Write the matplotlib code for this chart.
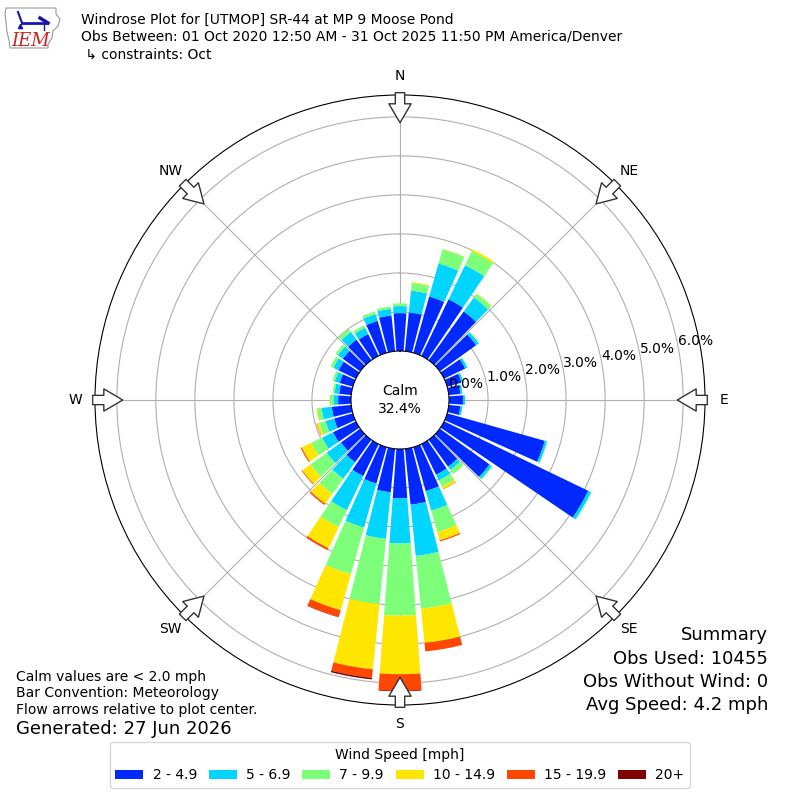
import numpy as np
import matplotlib
matplotlib.use("Agg")
import matplotlib.pyplot as plt
from matplotlib.patches import Polygon

# direction bins (degrees, meteorological: wind from)
directions = list(range(0, 360, 10))

# percent frequency per speed bin, one value per 10 degree sector
speed_2_5 = [0.97, 1.00, 1.50, 1.61, 1.54, 1.15, 0.60, 0.38, 0.30, 0.36, 0.30, 2.60,
             4.10, 1.57, 0.85, 0.87, 1.17, 1.44, 1.26, 1.12, 0.97, 0.91, 0.71, 0.61,
             0.65, 0.50, 0.50, 0.33, 0.31, 0.35, 0.49, 0.55, 0.65, 0.62, 0.85, 0.92]
speed_5_7 = [0.18, 0.56, 0.88, 0.97, 0.44, 0.08, 0.06, 0.05, 0.05, 0.05, 0.05, 0.06,
             0.08, 0.07, 0.10, 0.16, 0.52, 1.32, 1.16, 1.20, 1.17, 0.97, 0.52, 0.45,
             0.31, 0.23, 0.26, 0.12, 0.12, 0.13, 0.15, 0.16, 0.24, 0.18, 0.18, 0.17]
speed_7_10 = [0.07, 0.20, 0.38, 0.40, 0.12, 0.02, 0.01, 0.00, 0.00, 0.00, 0.00, 0.01,
              0.02, 0.03, 0.13, 0.19, 0.57, 1.36, 1.85, 1.68, 1.24, 0.48, 0.48, 0.51,
              0.31, 0.17, 0.12, 0.09, 0.05, 0.06, 0.08, 0.07, 0.10, 0.07, 0.07, 0.06]
speed_10_15 = [0.00, 0.02, 0.01, 0.05, 0.01, 0.00, 0.00, 0.00, 0.00, 0.00, 0.00, 0.00,
               0.00, 0.00, 0.00, 0.06, 0.22, 0.88, 1.50, 1.68, 0.96, 0.60, 0.31, 0.26,
               0.27, 0.06, 0.02, 0.01, 0.00, 0.00, 0.00, 0.00, 0.00, 0.00, 0.00, 0.00]
speed_15_20 = [0.00, 0.00, 0.00, 0.00, 0.00, 0.00, 0.00, 0.00, 0.00, 0.00, 0.00, 0.00,
               0.00, 0.00, 0.00, 0.01, 0.03, 0.22, 0.42, 0.22, 0.18, 0.05, 0.04, 0.02,
               0.03, 0.01, 0.00, 0.00, 0.00, 0.00, 0.00, 0.00, 0.00, 0.00, 0.00, 0.00]
speed_20p = [0.00] * 18 + [0.02, 0.04, 0.01] + [0.00] * 15

speed_labels = ["2 - 4.9", "5 - 6.9", "7 - 9.9", "10 - 14.9", "15 - 19.9", "20+"]
calm_pct = 32.4
ring_values = [0, 1, 2, 3, 4, 5, 6]
compass = ["N", "NE", "E", "SE", "S", "SW", "W", "NW"]

series = [speed_2_5, speed_5_7, speed_7_10, speed_10_15, speed_15_20, speed_20p]
colors = plt.get_cmap("jet")(np.linspace(0, 1, 7)[1:])

fig = plt.figure(figsize=(8, 8), dpi=100)
ax = fig.add_axes([0.11875, 0.11875, 0.7625, 0.7625], projection="polar")
ax.set_theta_zero_location("N")
ax.set_theta_direction(-1)

theta = np.radians(directions)
width = np.radians(10) * 0.85
bottom = np.zeros(len(directions))
handles = []
for vals, col, lab in zip(series, colors, speed_labels):
    vals = np.array(vals)
    b = ax.bar(theta, vals, width=width, bottom=bottom, color=col,
               linewidth=0, label=lab, zorder=2)
    handles.append(b)
    bottom += vals

rmax = 6.56
ax.set_rorigin(-1.256)
ax.set_ylim(0, rmax)
ax.set_yticks(ring_values[1:])
ax.set_yticklabels([])
ax.set_xticks(np.radians(range(0, 360, 45)))
ax.set_xticklabels([])
ax.grid(True, color="#b0b0b0", linewidth=0.8, zorder=1)
ax.spines["polar"].set_color("black")
ax.spines["inner"].set_visible(True)
ax.spines["inner"].set_color("black")

# ring labels
for v in ring_values:
    ax.text(np.radians(79.5), v, f"{v:.1f}%", ha="left", va="bottom",
            fontsize=10, zorder=5)

# compass labels
for i, name in enumerate(compass):
    ax.text(np.radians(i * 45), 7.05, name, ha="center", va="center",
            fontsize=10, clip_on=False)

# flow arrows at the rim pointing to the center
for i in range(8):
    th = np.radians(i * 45)
    ax.annotate("", xy=(th, 5.85), xytext=(th, 6.62), annotation_clip=False,
                arrowprops=dict(arrowstyle="simple,head_length=0.85,head_width=1.0,tail_width=0.42",
                                fc="white", ec="#333333", lw=1, shrinkA=0, shrinkB=0,
                                mutation_scale=16), zorder=6)

ax.text(0, -1.256, f"Calm\n{calm_pct:.1f}%", ha="center", va="center",
        fontsize=10, linespacing=1.3)

# header
fig.text(81 / 800, 1 - 12.5 / 800,
         "Windrose Plot for [UTMOP] SR-44 at MP 9 Moose Pond\n"
         "Obs Between: 01 Oct 2020 12:50 AM - 31 Oct 2025 11:50 PM America/Denver\n"
         " \u21b3 constraints: Oct",
         ha="left", va="top", fontsize=10, linespacing=1.3)

# logo
lax = fig.add_axes([4 / 800, 1 - 50 / 800, 58 / 800, 46 / 800])
lax.set_xlim(0, 58)
lax.set_ylim(46, 0)
lax.axis("off")
iowa = [(2, 4), (52, 4), (52, 10), (56, 15), (54, 22), (49, 27), (48, 34), (44, 40),
        (44, 44), (6, 44), (5, 36), (3, 28), (2, 18), (1, 10)]
lax.add_patch(Polygon(iowa, closed=True, fill=False, ec="#999999", lw=0.8))
lax.plot([18, 42], [19, 19], color="#1515b0", lw=2)
lax.plot([18, 14], [19, 8], color="#1515b0", lw=1.5)
lax.plot([36, 44], [14, 19], color="#1515b0", lw=2.5)
lax.plot([40, 40], [19, 26], color="#1515b0", lw=1)
lax.plot([16], [22], marker="^", color="#1515b0", ms=3)
lax.text(27, 37, "IEM", color="#cc2222", fontsize=13, style="italic",
         family="DejaVu Serif", ha="center", va="center")

# notes
fig.text(16 / 800, 1 - 677 / 800, "Calm values are < 2.0 mph", fontsize=10, va="center")
fig.text(16 / 800, 1 - 693 / 800, "Bar Convention: Meteorology", fontsize=10, va="center")
fig.text(16 / 800, 1 - 710 / 800, "Flow arrows relative to plot center.", fontsize=10, va="center")
fig.text(16 / 800, 1 - 729 / 800, "Generated: 27 Jun 2026", fontsize=13, va="center")

summary = ["Summary", "Obs Used: 10455", "Obs Without Wind: 0", "Avg Speed: 4.2 mph"]
for i, s in enumerate(summary):
    fig.text(768 / 800, 1 - (635 + i * 23.5) / 800, s, fontsize=13,
             ha="right", va="center")

leg = fig.legend(handles=handles, labels=speed_labels, loc="lower center",
                 bbox_to_anchor=(0.5, 0.015), ncol=6, title="Wind Speed [mph]",
                 fontsize=10, title_fontsize=10, handlelength=2.0, handleheight=0.6,
                 handletextpad=0.67, columnspacing=0.86, borderaxespad=0,
                 frameon=True)
leg.get_frame().set_edgecolor("#cccccc")

fig.savefig("out.png", dpi=100)
